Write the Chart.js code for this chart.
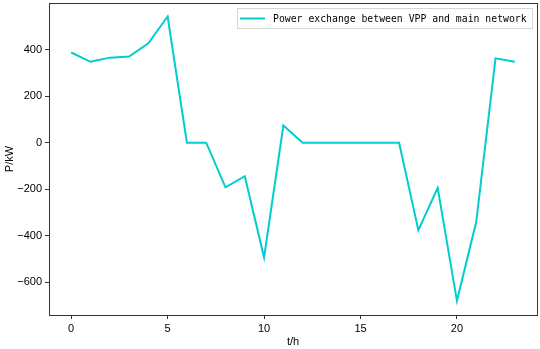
<!DOCTYPE html>
<html><head><meta charset="utf-8">
<script src="https://cdn.jsdelivr.net/npm/chart.js@4/dist/chart.umd.min.js"></script>
<style>html,body{margin:0;padding:0;background:#fff}canvas{display:block}</style>
</head><body>
<canvas id="c" width="540" height="349"></canvas>
<script>
const hours = [0,1,2,3,4,5,6,7,8,9,10,11,12,13,14,15,16,17,18,19,20,21,22,23];
const power = [388,348,366,371,428,543,0,0,-192,-144,-493,74,0,0,0,0,0,0,-376,-194,-680,-340,363,348];
const xTicks = [0,5,10,15,20];
const yTicks = [-600,-400,-200,0,200,400];
const seriesLabel = 'Power exchange between VPP and main network';
const lineColor = '#00CDD0';
const tickFont = {family:'"Liberation Sans", Arial, sans-serif', size:11};

const frame = {
  id:'frame',
  afterDraw(chart){
    const {ctx, chartArea:a} = chart;
    ctx.save();
    ctx.strokeStyle = '#333'; ctx.lineWidth = 1;
    ctx.strokeRect(Math.round(a.left)+0.5, Math.round(a.top)+0.5, Math.round(a.right-a.left), Math.round(a.bottom-a.top));
    // legend
    const bx = 237, by = 8, bw = 295, bh = 20;
    ctx.fillStyle = 'rgba(255,255,255,0.8)';
    ctx.fillRect(bx,by,bw,bh);
    ctx.strokeStyle = '#d6d6d6';
    ctx.strokeRect(bx+0.5,by+0.5,bw,bh);
    ctx.strokeStyle = lineColor; ctx.lineWidth = 2;
    ctx.beginPath(); ctx.moveTo(240, by+bh/2+0.5); ctx.lineTo(265, by+bh/2+0.5); ctx.stroke();
    ctx.fillStyle = '#000';
    ctx.font = '9.8px "DejaVu Sans Mono", "Liberation Mono", monospace';
    ctx.textBaseline = 'middle'; ctx.textAlign = 'left';
    ctx.fillText(seriesLabel, 273, by+bh/2+1);
    ctx.restore();
  }
};

new Chart(document.getElementById('c'), {
  type:'line',
  data:{ datasets:[{ label:seriesLabel, data: hours.map((h,i)=>({x:h,y:power[i]})),
    borderColor:lineColor, borderWidth:2, pointRadius:0, tension:0, fill:false }]},
  options:{
    responsive:false, animation:false, events:[],
    layout:{padding:{left:0,top:3,right:3,bottom:0}},
    plugins:{legend:{display:false}, tooltip:{enabled:false}},
    scales:{
      x:{ type:'linear', min:-1.15, max:24.15,
        afterBuildTicks(s){ s.ticks = xTicks.map(v=>({value:v})); },
        afterFit(s){ s.height = 34; s.paddingLeft = 0; s.paddingRight = 0; },
        grid:{display:true, drawOnChartArea:false, drawTicks:true, tickLength:4, color:'#333'},
        border:{display:true,color:'#333'},
        ticks:{color:'#000', font:tickFont, padding:3, maxRotation:0, callback:v=>String(v)},
        title:{display:true, text:'t/h', color:'#000', font:tickFont, padding:{top:0,bottom:0}}
      },
      y:{ type:'linear', min:-741, max:601,
        afterBuildTicks(s){ s.ticks = yTicks.map(v=>({value:v})); },
        afterFit(s){ s.width = 49; s.paddingTop = 0; s.paddingBottom = 0; },
        grid:{display:true, drawOnChartArea:false, drawTicks:true, tickLength:4, color:'#333'},
        border:{display:true,color:'#333'},
        ticks:{color:'#000', font:tickFont, padding:3, callback:v=>String(v).replace('-','\u2212')},
        title:{display:true, text:'P/kW', color:'#000', font:tickFont, padding:{top:3,bottom:3}}
      }
    }
  },
  plugins:[frame]
});
</script>
</body></html>
